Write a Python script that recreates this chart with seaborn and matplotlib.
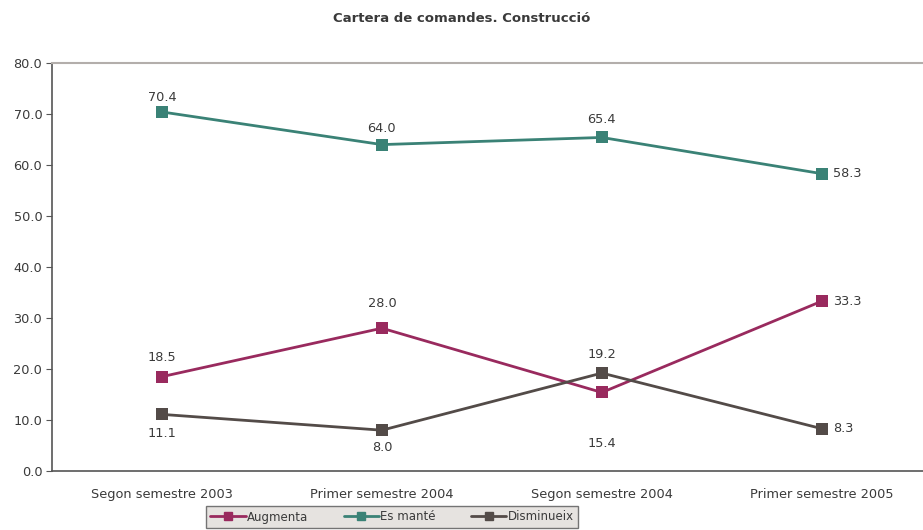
import pandas as pd
import numpy as np
import matplotlib.pyplot as plt
import seaborn as sns

# dades del gràfic
periodes = ["Segon semestre 2003", "Primer semestre 2004", "Segon semestre 2004", "Primer semestre 2005"]
augmenta = [18.5, 28.0, 15.4, 33.3]
es_mante = [70.4, 64.0, 65.4, 58.3]
disminueix = [11.1, 8.0, 19.2, 8.3]
series = ["Augmenta", "Es manté", "Disminueix"]
colors = ["#992A5E", "#3A8276", "#534B48"]
yticks = [0, 10, 20, 30, 40, 50, 60, 70, 80]

# posicio de cada etiqueta: a dalt, a baix o a la dreta (i distancia en punts)
pos_aug = [("up", 9), ("up", 13), ("down", 32), ("right", 8)]
pos_es = [("up", 6), ("up", 7), ("up", 8), ("right", 8)]
pos_dis = [("down", 9), ("down", 8), ("up", 9), ("right", 8)]

df = pd.DataFrame({
    "periode": periodes * 3,
    "valor": augmenta + es_mante + disminueix,
    "serie": [s for s in series for _ in periodes],
})

sns.set_style("white")
plt.rcParams["font.family"] = ["DejaVu Sans"]
text_color = "#3a3a3a"
fs = 9.3

fig = plt.figure(figsize=(9.23, 5.30), dpi=100)
ax = fig.add_axes([52 / 923, 59 / 530, 1 - 52 / 923, 408 / 530])

sns.lineplot(data=df, x="periode", y="valor", hue="serie", hue_order=series,
             palette=colors, marker="s", markersize=9, markeredgewidth=0,
             linewidth=2.0, ax=ax, legend=False, sort=False)

for vals, pos in [(augmenta, pos_aug), (es_mante, pos_es), (disminueix, pos_dis)]:
    for i, (v, (p, d)) in enumerate(zip(vals, pos)):
        if p == "up":
            ax.annotate(f"{v:.1f}", (i, v), xytext=(0, d), textcoords="offset points",
                        ha="center", va="bottom", fontsize=fs, color=text_color)
        elif p == "down":
            ax.annotate(f"{v:.1f}", (i, v), xytext=(0, -d), textcoords="offset points",
                        ha="center", va="top", fontsize=fs, color=text_color)
        else:
            ax.annotate(f"{v:.1f}", (i, v), xytext=(d, 0), textcoords="offset points",
                        ha="left", va="center", fontsize=fs, color=text_color)

ax.set_yticks(yticks)
ax.set_yticklabels([f"{t:.1f}" for t in yticks], fontsize=fs, color=text_color)
ax.set_xticks(range(len(periodes)))
ax.set_xticklabels(periodes, fontsize=fs, color=text_color)
ax.set_xticks([-0.5, 0.5, 1.5, 2.5], minor=True)
ax.tick_params(axis="x", which="major", length=0, pad=12)
ax.tick_params(axis="x", which="minor", length=4, direction="in", color="#555555")
ax.tick_params(axis="y", length=4, direction="out", color="#555555", left=True, pad=3)
ax.set_xlim(-0.5, 3.46)
ax.set_ylim(0, 80)
ax.set_xlabel("")
ax.set_ylabel("")

ax.spines["right"].set_visible(False)
ax.spines["top"].set_color("#b3aeab")
ax.spines["top"].set_linewidth(1.5)
for s in ["left", "bottom"]:
    ax.spines[s].set_color("#555555")
    ax.spines[s].set_linewidth(1.2)

fig.text(462 / 923, 1 - 18 / 530, "Cartera de comandes. Construcció", ha="center", va="center",
         fontsize=9.5, fontweight="bold", color=text_color)

handles = [plt.Line2D([], [], color=c, marker="s", markersize=6, linewidth=2.0) for c in colors]
leg = fig.legend(handles, series, loc="center", bbox_to_anchor=(392 / 923, 1 - 517 / 530),
                 ncol=3, fontsize=8.5, frameon=True, fancybox=False, handlelength=3,
                 columnspacing=3.0, borderpad=0.4, handletextpad=0.1)
leg.get_frame().set_facecolor("#e0dcd9")
leg.get_frame().set_edgecolor("#555555")
leg.get_frame().set_linewidth(1.0)
for t in leg.get_texts():
    t.set_color(text_color)

fig.savefig("out.png", dpi=100)
